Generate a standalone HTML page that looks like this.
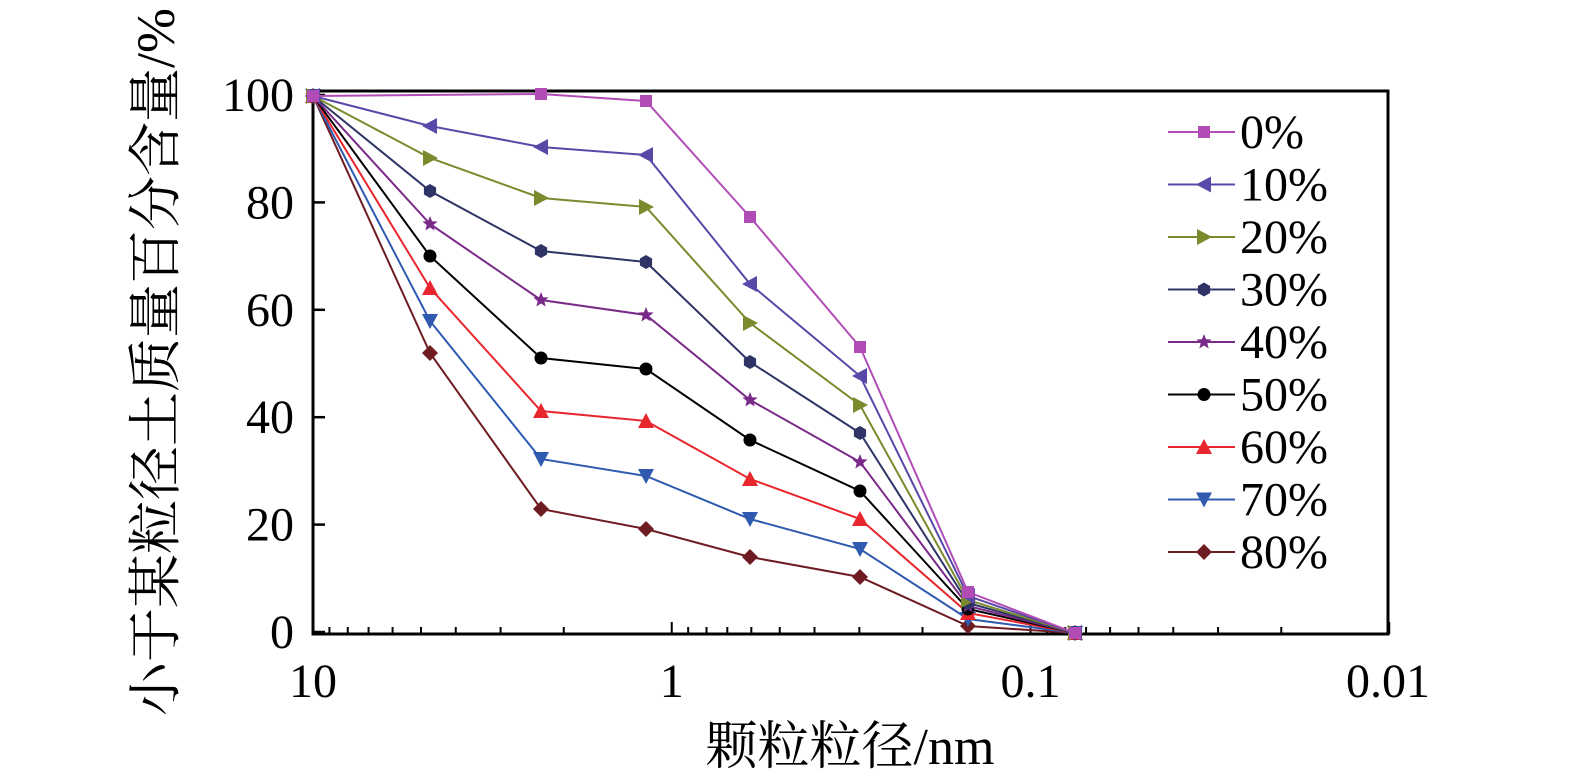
<!DOCTYPE html>
<html><head><meta charset="utf-8"><style>body{margin:0;background:#fff}svg{display:block}text{font-family:"Liberation Serif","Times New Roman","DejaVu Serif","Noto Serif CJK SC",serif}</style></head>
<body>
<svg id="s" width="1575" height="784" xmlns="http://www.w3.org/2000/svg"></svg>
<script>
const s=document.getElementById('s');let h='';
const L=313,R=1388,T=91,B=634,dec=358.75;
h+=`<rect x="${L}" y="${T}" width="${R-L}" height="${B-T}" fill="none" stroke="#000" stroke-width="3"/>`;
for(let d=0;d<3;d++){const v0=Math.pow(10,1-d);for(let k=1;k<10;k++){const v=v0*k/10;const x=L+(1-Math.log10(v))*dec;if(x<L+1)continue;const len=k==1?12:7;h+=`<line x1="${x}" y1="${B}" x2="${x}" y2="${B-len}" stroke="#000" stroke-width="2"/>`;}}
for(let i=0;i<=5;i++){const y=632-i*107.4;h+=`<line x1="${L}" y1="${y}" x2="${L+12}" y2="${y}" stroke="#000" stroke-width="2.5"/><text x="294" y="${y+16}" font-size="48" text-anchor="end">${i*20}</text>`;}
[['10',L],['1',L+dec],['0.1',L+2*dec],['0.01',R]].forEach(([t,x])=>h+=`<text x="${x}" y="697" font-size="48" text-anchor="middle">${t}</text>`);
h+=`<text x="850" y="764" font-size="52" text-anchor="middle">颗粒粒径/nm</text>`;
h+=`<text transform="translate(174,362) rotate(-90)" font-size="54" text-anchor="middle">小于某粒径土质量百分含量/%</text>`;
const X=[313,430,541,646,750,860,968,1075];
const S=[
['0%','#b14cb6','sq',[96,null,94,101,217,347,592,633]],
['10%','#5a48a8','tl',[96,126,147,155,284,376,596,633]],
['20%','#7a8a2c','tr',[96,158,198,207,323,405,600,633]],
['30%','#2e3566','hex',[96,191,251,262,362,433,603,633]],
['40%','#7a2a88','star',[96,224,300,315,400,462,606,633]],
['50%','#000','ci',[96,256,358,369,440,491,609,633]],
['60%','#e8262d','tu',[96,288,411,421,479,519,613,633]],
['70%','#2f5ab0','td',[96,321,459,476,519,549,619,633]],
['80%','#6e1c22','dia',[96,353,509,529,557,577,626,633]]];
function mk(t,x,y,c){const r=7;switch(t){
case'sq':return`<rect x="${x-6}" y="${y-6}" width="12" height="12" fill="${c}"/>`;
case'tl':return`<polygon points="${x-8},${y} ${x+7},${y-8} ${x+7},${y+8}" fill="${c}"/>`;
case'tr':return`<polygon points="${x+8},${y} ${x-7},${y-8} ${x-7},${y+8}" fill="${c}"/>`;
case'tu':return`<polygon points="${x},${y-8} ${x-8},${y+7} ${x+8},${y+7}" fill="${c}"/>`;
case'td':return`<polygon points="${x},${y+8} ${x-8},${y-7} ${x+8},${y-7}" fill="${c}"/>`;
case'dia':return`<polygon points="${x},${y-8} ${x+8},${y} ${x},${y+8} ${x-8},${y}" fill="${c}"/>`;
case'ci':return`<circle cx="${x}" cy="${y}" r="6.5" fill="${c}"/>`;
case'hex':{let p=[];for(let i=0;i<6;i++){const a=Math.PI/3*i+Math.PI/6;p.push((x+r*Math.cos(a)).toFixed(1)+','+(y+r*Math.sin(a)).toFixed(1));}return`<polygon points="${p.join(' ')}" fill="${c}"/>`;}
case'star':{let p=[];for(let i=0;i<10;i++){const a=-Math.PI/2+Math.PI/5*i,rr=i%2?3.5:8;p.push((x+rr*Math.cos(a)).toFixed(1)+','+(y+rr*Math.sin(a)).toFixed(1));}return`<polygon points="${p.join(' ')}" fill="${c}"/>`;}}}
S.slice().reverse().forEach(([n,c,t,ys])=>{let pts=[];ys.forEach((y,i)=>{if(y!==null)pts.push([X[i],y])});
h+=`<polyline points="${pts.map(p=>p.join(',')).join(' ')}" fill="none" stroke="${c}" stroke-width="2"/>`;
pts.forEach(p=>h+=mk(t,p[0],p[1],c));});
S.forEach(([n,c,t],i)=>{const y=132+i*52.5;h+=`<line x1="1168" y1="${y}" x2="1235" y2="${y}" stroke="${c}" stroke-width="2"/>`+mk(t,1204,y,c)+`<text x="1240" y="${y+16}" font-size="48">${n}</text>`;});
s.innerHTML=h;
</script>
</body></html>
